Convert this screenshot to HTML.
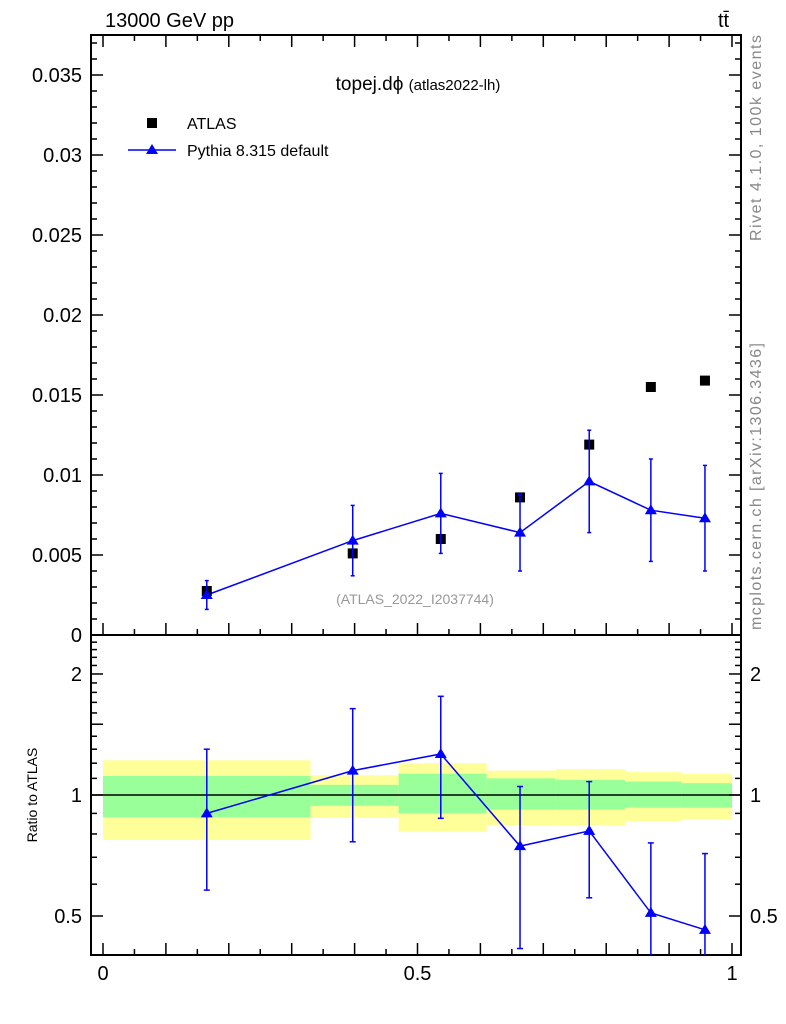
<!DOCTYPE html>
<html><head><meta charset="utf-8"><style>
body{margin:0;background:#fff}
svg{display:block;font-family:"Liberation Sans",sans-serif}
</style></head><body>
<svg id="c" width="786" height="1024" viewBox="0 0 786 1024">
<text x="105" y="27" font-size="20">13000 GeV pp</text>
<text x="718" y="27" font-size="20">tt̄</text>
<text x="418" y="90" font-size="19" text-anchor="middle">topej.dϕ <tspan font-size="15">(atlas2022-lh)</tspan></text>
<text x="415" y="604" font-size="14" fill="#999" text-anchor="middle">(ATLAS_2022_I2037744)</text>
<text transform="translate(761,241) rotate(-90)" font-size="16" fill="#888" textLength="206">Rivet 4.1.0,  100k events</text>
<text transform="translate(761,630) rotate(-90)" font-size="16" fill="#888" textLength="287">mcplots.cern.ch [arXiv:1306.3436]</text>
<text transform="translate(37,795) rotate(-90)" font-size="14" text-anchor="middle">Ratio to ATLAS</text>
<g>
<rect x="147" y="118" width="10" height="10" fill="#000"/>
<text x="187" y="129" font-size="16">ATLAS</text>
<line x1="128" y1="150" x2="176" y2="150" stroke="#00f" stroke-width="1.5"/>
<path d="M152 144 L158 154 L146 154 Z" fill="#00f"/>
<text x="187" y="156" font-size="16">Pythia 8.315 default</text>
</g>
<g id="g"></g>
</svg>
<script>
const xCenters=[0.165,0.397,0.537,0.663,0.773,0.871,0.957];
const atlas=[0.00275,0.0051,0.0060,0.0086,0.0119,0.0155,0.0159];
const atlasErr=[0.0004,0.0001,0.0001,0.0001,0.0001,0.0001,0.0001];
const pythia=[0.0025,0.0059,0.0076,0.0064,0.0096,0.0078,0.0073];
const pythiaErr=[0.0009,0.0022,0.0025,0.0024,0.0032,0.0032,0.0033];
const ratio=[0.90,1.15,1.265,0.746,0.814,0.509,0.462];
const ratioLo=[0.58,0.765,0.875,0.415,0.555,0.30,0.30];
const ratioHi=[1.30,1.64,1.76,1.05,1.08,0.76,0.715];
const binEdges=[0,0.33,0.47,0.61,0.72,0.83,0.92,1.0];
const yelLo=[0.773,0.877,0.81,0.84,0.84,0.86,0.87];
const yelHi=[1.22,1.12,1.20,1.15,1.16,1.14,1.13];
const grnLo=[0.88,0.94,0.90,0.92,0.92,0.93,0.93];
const grnHi=[1.115,1.06,1.13,1.10,1.09,1.08,1.07];
const mainTicks=[0,0.005,0.01,0.015,0.02,0.025,0.03,0.035];
const mainTickLabels=["0","0.005","0.01","0.015","0.02","0.025","0.03","0.035"];
const ratioTicks=[0.5,1,2];
const ratioTickLabels=["0.5","1","2"];
const xTicks=[0,0.5,1];
const xTickLabels=["0","0.5","1"];

const L=91,R=741,T=35,MB=635,RB=955;
const X=v=>103+v*629;
const Y=v=>635-v*16000;
const RY=r=>795-402*Math.log10(r);
const NS="http://www.w3.org/2000/svg";
const g=document.getElementById('g');
function mk(t,a,n){const e=document.createElementNS(NS,t);for(const k in a)e.setAttribute(k,a[k]);


g.appendChild(e);return e;}
for(let i=0;i<yelLo.length;i++){
 mk('rect',{x:X(binEdges[i]),y:RY(yelHi[i]),width:X(binEdges[i+1])-X(binEdges[i]),height:RY(yelLo[i])-RY(yelHi[i]),fill:'#ffff99'},'ratio-band-yellow');
 mk('rect',{x:X(binEdges[i]),y:RY(grnHi[i]),width:X(binEdges[i+1])-X(binEdges[i]),height:RY(grnLo[i])-RY(grnHi[i]),fill:'#99ff99'},'ratio-band-green');
}
mk('line',{x1:L,x2:R,y1:RY(1),y2:RY(1),stroke:'#000','stroke-width':1.5},'ratio-unity-line');
mk('rect',{x:L,y:T,width:R-L,height:MB-T,fill:'none',stroke:'#000','stroke-width':2},'main-frame');
mk('rect',{x:L,y:MB,width:R-L,height:RB-MB,fill:'none',stroke:'#000','stroke-width':2},'ratio-frame');
for(let k=0;k<=20;k++){const v=k*0.05;const len=k%2?6:12;
 [MB,RB].forEach(b=>mk('line',{x1:X(v),x2:X(v),y1:b,y2:b-len,stroke:'#000','stroke-width':1.5},'x-tick'));
 mk('line',{x1:X(v),x2:X(v),y1:T,y2:T+len,stroke:'#000','stroke-width':1.5},'x-tick');
}
xTicks.forEach((v,i)=>{const t=mk('text',{x:X(v),y:980,'font-size':20,'text-anchor':'middle'},'x-tick-label');t.textContent=xTickLabels[i];});
for(let k=0;k<=37;k++){const v=k*0.001;if(Y(v)<T)break;const len=k%5?6:12;
 mk('line',{x1:L,x2:L+len,y1:Y(v),y2:Y(v),stroke:'#000','stroke-width':1.5},'y-tick');
 mk('line',{x1:R,x2:R-len,y1:Y(v),y2:Y(v),stroke:'#000','stroke-width':1.5},'y-tick');}
mainTicks.forEach((v,i)=>{const t=mk('text',{x:82,y:Y(v)+7,'font-size':20,'text-anchor':'end'},'y-tick-label');t.textContent=mainTickLabels[i];});
for(let k=3;k<=24;k++){const r=k/10;const y=RY(r);if(y<MB||y>RB)continue;const len=(k%5==0)?12:6;
 mk('line',{x1:L,x2:L+len,y1:y,y2:y,stroke:'#000','stroke-width':1.5},'ratio-y-tick');
 mk('line',{x1:R,x2:R-len,y1:y,y2:y,stroke:'#000','stroke-width':1.5},'ratio-y-tick');}
ratioTicks.forEach((v,i)=>{let t=mk('text',{x:82,y:RY(v)+7,'font-size':20,'text-anchor':'end'},'ratio-tick-label');t.textContent=ratioTickLabels[i];
 t=mk('text',{x:750,y:RY(v)+7,'font-size':20},'ratio-tick-label-right');t.textContent=ratioTickLabels[i];});
mk('polyline',{points:xCenters.map((x,i)=>X(x)+','+Y(pythia[i])).join(' '),fill:'none',stroke:'#00f','stroke-width':1.5},'pythia-line');
xCenters.forEach((x,i)=>{
 mk('line',{x1:X(x),x2:X(x),y1:Y(atlas[i]-atlasErr[i]),y2:Y(atlas[i]+atlasErr[i]),stroke:'#000','stroke-width':1.5},'atlas-errorbar');
 mk('rect',{x:X(x)-5,y:Y(atlas[i])-5,width:10,height:10,fill:'#000'},'atlas-point');
 const a=Y(pythia[i]-pythiaErr[i]),b=Y(pythia[i]+pythiaErr[i]);
 mk('line',{x1:X(x),x2:X(x),y1:a,y2:b,stroke:'#00f','stroke-width':1.5},'pythia-errorbar');
 mk('line',{x1:X(x)-2,x2:X(x)+2,y1:a,y2:a,stroke:'#00f','stroke-width':1.5},'pythia-errorcap');
 mk('line',{x1:X(x)-2,x2:X(x)+2,y1:b,y2:b,stroke:'#00f','stroke-width':1.5},'pythia-errorcap');
 const y=Y(pythia[i]);mk('path',{d:`M${X(x)} ${y-6} L${X(x)+6} ${y+4} L${X(x)-6} ${y+4} Z`,fill:'#00f'},'pythia-point');
});
mk('polyline',{points:xCenters.map((x,i)=>X(x)+','+RY(ratio[i])).join(' '),fill:'none',stroke:'#00f','stroke-width':1.5},'ratio-line');
xCenters.forEach((x,i)=>{
 const a=Math.min(RY(ratioLo[i]),RB),b=RY(ratioHi[i]);
 mk('line',{x1:X(x),x2:X(x),y1:a,y2:b,stroke:'#00f','stroke-width':1.5},'ratio-errorbar');
 mk('line',{x1:X(x)-3,x2:X(x)+3,y1:b,y2:b,stroke:'#00f','stroke-width':1.5},'ratio-errorcap');
 if(a<RB)mk('line',{x1:X(x)-3,x2:X(x)+3,y1:a,y2:a,stroke:'#00f','stroke-width':1.5},'ratio-errorcap');
 const y=RY(ratio[i]);mk('path',{d:`M${X(x)} ${y-6} L${X(x)+6} ${y+4} L${X(x)-6} ${y+4} Z`,fill:'#00f'},'ratio-point');
});
</script>
</body></html>
